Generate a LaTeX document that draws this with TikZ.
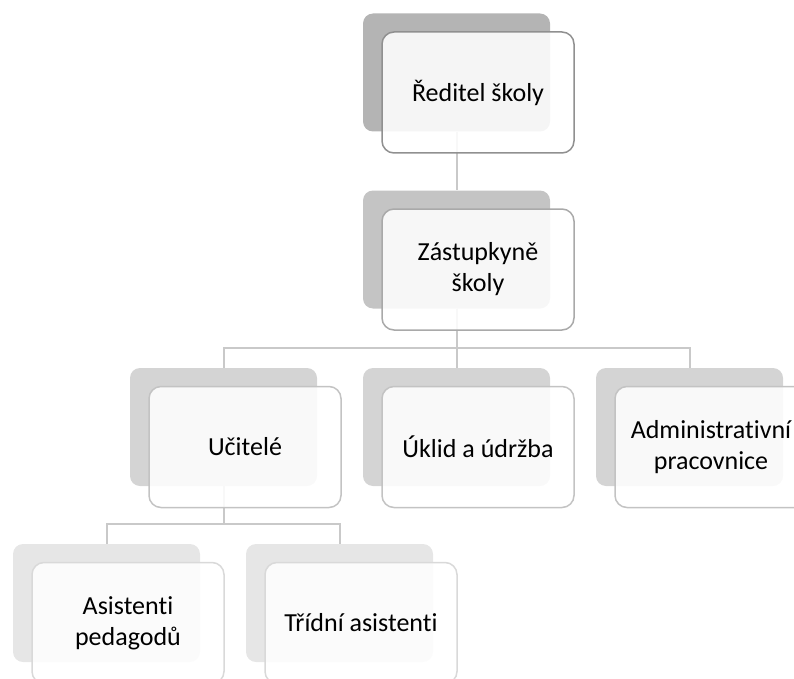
\documentclass[tikz,border=0pt]{standalone}
\usepackage{fontspec}
\setmainfont{Carlito}[Ligatures={NoCommon}]
\usetikzlibrary{positioning, calc}

\definecolor{lv1}{HTML}{B4B4B4}
\definecolor{lv2}{HTML}{C4C4C4}
\definecolor{lv3}{HTML}{D4D4D4}
\definecolor{lv4}{HTML}{E6E6E6}
\definecolor{bd1}{HTML}{909090}
\definecolor{bd2}{HTML}{A9A9A9}
\definecolor{bd3}{HTML}{C3C3C3}
\definecolor{bd4}{HTML}{D9D9D9}
\definecolor{linkgray}{HTML}{C9C9C9}

\begin{document}
\begin{tikzpicture}[x=1pt, y=-1pt,
  back/.style={rounded corners=10pt, minimum width=187pt, minimum height=118pt, fill=#1, inner sep=0pt},
  front/.style={draw=#1, line width=1.5pt, rounded corners=12pt, fill=white, fill opacity=0.88, text opacity=1,
    minimum width=192pt, minimum height=121pt, align=center, inner sep=0pt, font=\fontsize{26}{31}\selectfont},
  link/.style={draw=linkgray, line width=2pt}]
  \useasboundingbox (0,0) rectangle (794,679);
  \clip (0,0) rectangle (794,679);

  % Schatten
  \node[back=lv1] (ds) at (456.5,72.5) {};
  \node[back=lv2] (zs) at (456.5,249.5) {};
  \foreach \n/\xpos in {us/223.5, ks/456.5, as/689.5}
    \node[back=lv3] (\n) at (\xpos,427) {};
  \foreach \n/\xpos in {ps/106.5, ts/339.5}
    \node[back=lv4] (\n) at (\xpos,603) {};

  % Verbindungen
  \coordinate (f1) at (456.5,348);
  \coordinate (f2) at (223.5,524);
  \draw[link] (ds.south) -- (zs.north);
  \draw[link] (zs.south) -- (f1) -- (ks.north);
  \draw[link] (us.north) |- (f1) -| (as.north);
  \draw[link] (us.south) -- (f2);
  \draw[link] (ps.north) |- (f2) -| (ts.north);

  % Kästen
  \node[front=bd1] (d) at ($(ds)+(21.5,20)$) {Ředitel školy};
  \node[front=bd2] (z) at ($(zs)+(21.5,20)$) {Zástupkyně\\školy};
  \node[front=bd3] (u) at ($(us)+(21.5,20)$) {Učitelé};
  \node[front=bd3] (k) at ($(ks)+(21.5,20)$) {Úklid a údržba};
  \node[front=bd3] (a) at ($(as)+(21.5,20)$) {Administrativní\\pracovnice};
  \node[front=bd4] (p) at ($(ps)+(21.5,20)$) {Asistenti\\pedagodů};
  \node[front=bd4] (t) at ($(ts)+(21.5,20)$) {Třídní asistenti};
\end{tikzpicture}
\end{document}
